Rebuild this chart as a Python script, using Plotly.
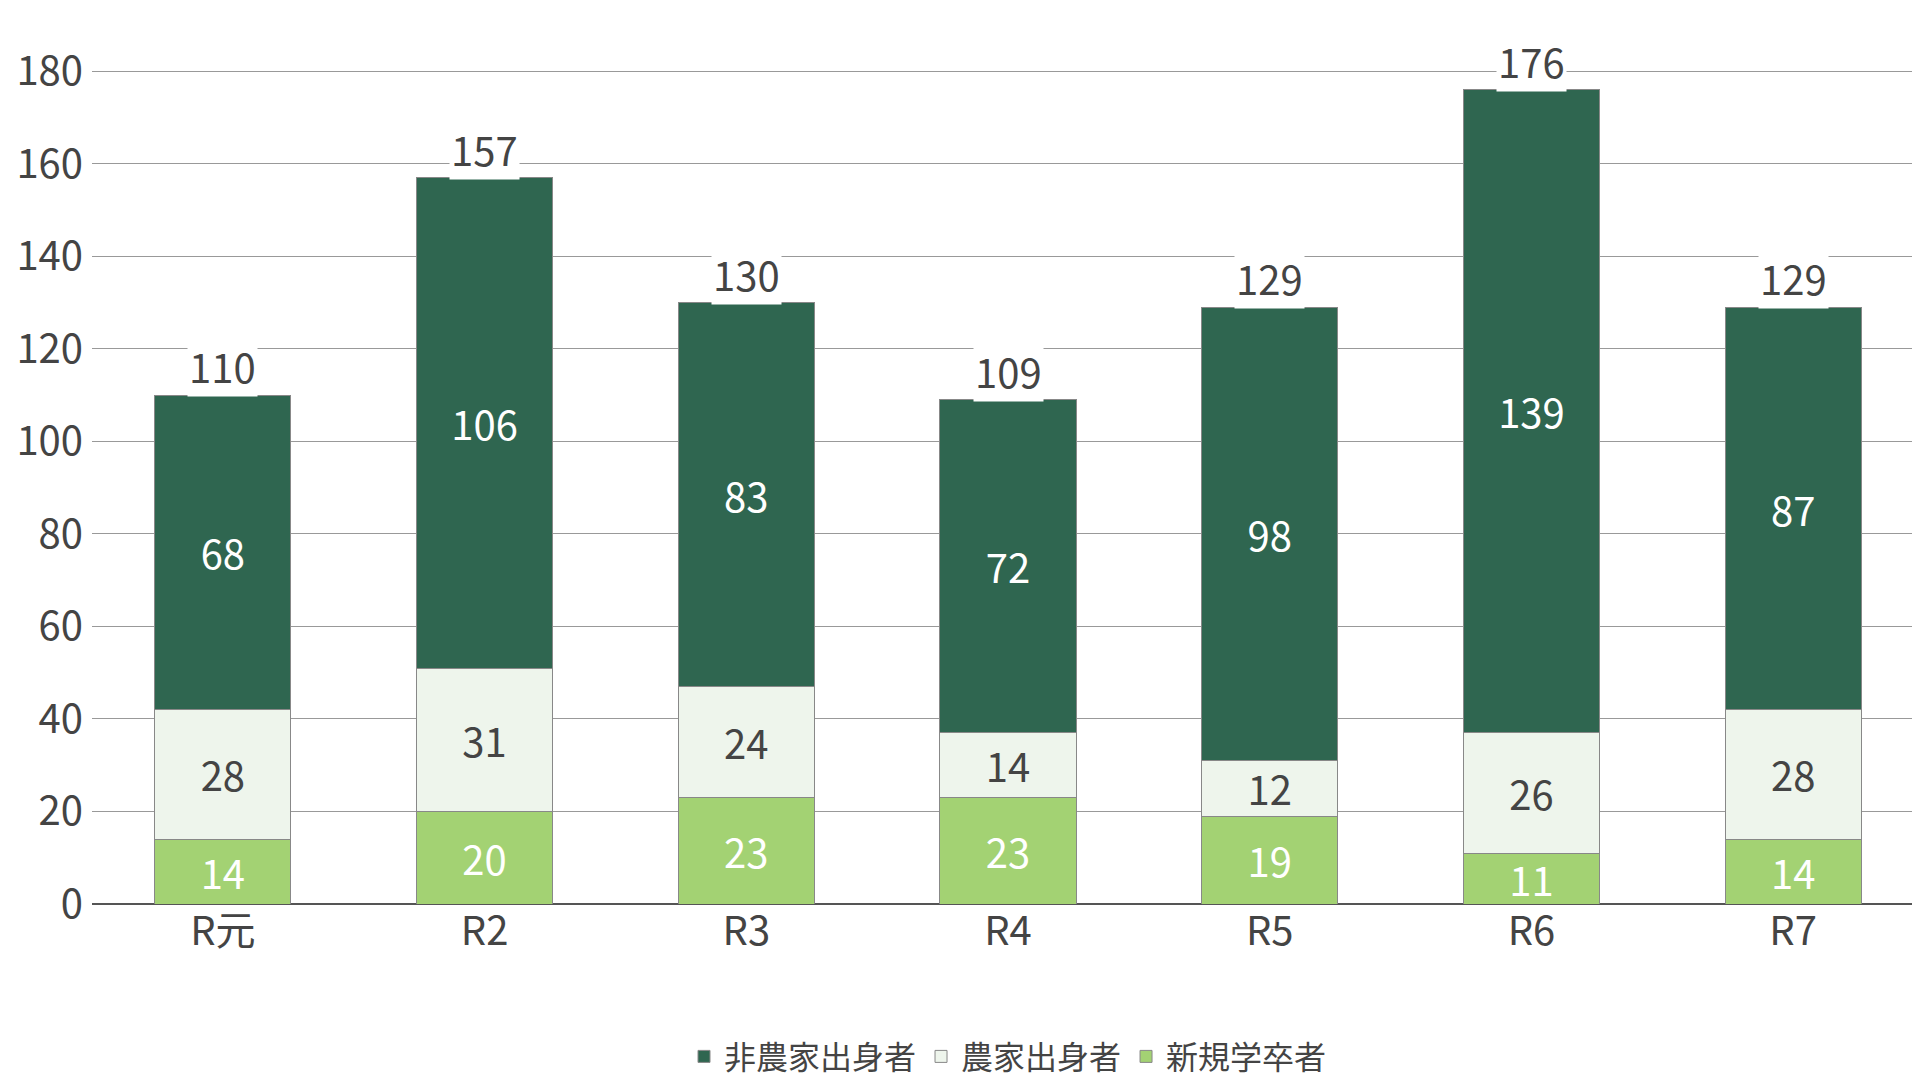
import plotly.graph_objects as go

cats = ["R元", "R2", "R3", "R4", "R5", "R6", "R7"]
shinki = [14, 20, 23, 23, 19, 11, 14]
nouka = [28, 31, 24, 14, 12, 26, 28]
hinouka = [68, 106, 83, 72, 98, 139, 87]
totals = [110, 157, 130, 109, 129, 176, 129]

F = "Noto Sans CJK JP"
fig = go.Figure()
series = [("新規学卒者", shinki, "#a3d273", "white"),
          ("農家出身者", nouka, "#eef5ec", "#444"),
          ("非農家出身者", hinouka, "#2f6650", "white")]
for name, vals, col, tc in series:
    fig.add_bar(x=cats, y=vals, name=name, marker=dict(color=col, line=dict(color="#888", width=1)),
                text=vals, textposition="inside", insidetextanchor="middle", textangle=0,
                constraintext="none", cliponaxis=False,
                textfont=dict(color=tc, size=40, family=F), width=0.52)
for c, t in zip(cats, totals):
    fig.add_annotation(x=c, y=t, text=str(t), showarrow=False, yanchor="bottom", yshift=-2,
                       font=dict(size=40, color="#444", family=F), bgcolor="white")
fig.update_layout(
    width=1920, height=1080, barmode="stack", plot_bgcolor="white", paper_bgcolor="white",
    margin=dict(l=84, r=4, t=62, b=184), font=dict(family=F, color="#444"),
    uniformtext=dict(minsize=10, mode="show"),
    legend=dict(orientation="h", x=0.5, xanchor="center", y=-0.15, yanchor="top",
                font=dict(size=32, family=F), traceorder="reversed"),
    xaxis=dict(tickfont=dict(size=40, family=F), showline=False),
    yaxis=dict(range=[0, 180.3], dtick=20, gridcolor="#999", zeroline=True, zerolinecolor="#555",
               tickfont=dict(size=40, family=F), ticklabelstandoff=8),
)
fig.write_html("out.html")
